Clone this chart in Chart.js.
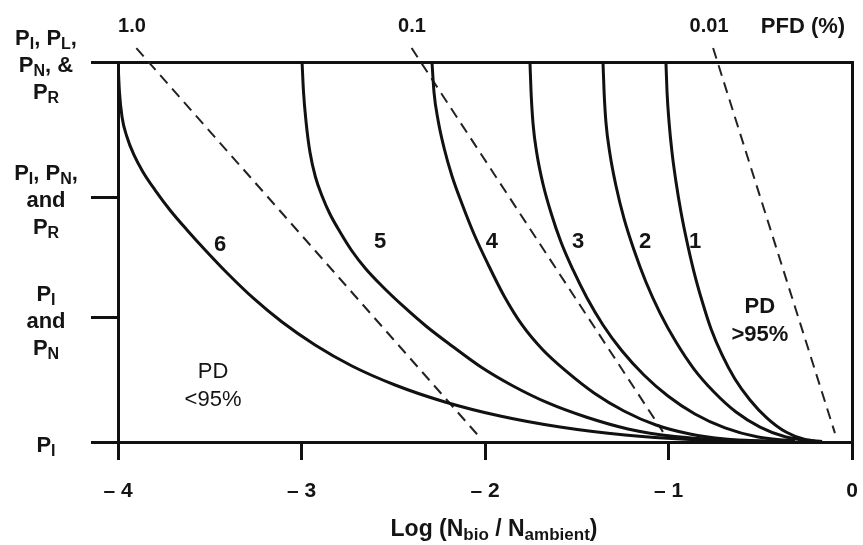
<!DOCTYPE html>
<html><head><meta charset="utf-8">
<script src="https://cdn.jsdelivr.net/npm/chart.js@4/dist/chart.umd.min.js"></script>
<style>html,body{margin:0;padding:0;background:#fff}canvas{display:block}</style>
</head><body>
<canvas id="c" width="863" height="545"></canvas>
<script>
// ---- data ----
const xTickValues = [-4, -3, -2, -1, 0];
const xTickLabels = ['\u2013 4', '\u2013 3', '\u2013 2', '\u2013 1', '0'];
const yTickValues = [0, 0.98, 1.93, 3];
const yTickLabels = [
  ['P_{I}'],
  ['P_{I}', 'and', 'P_{N}'],
  ['P_{I}, P_{N},', 'and', 'P_{R}'],
  ['P_{I}, P_{L},', 'P_{N}, &', 'P_{R}']
];
const xTitle = 'Log (N_{bio} / N_{ambient})';

const curve1X = [-1.014, -1.008, -0.997, -0.981, -0.959, -0.932, -0.899, -0.861, -0.817, -0.768, -0.708, -0.638, -0.556, -0.463, -0.360, -0.256, -0.163];
const curve1Y = [3.000, 2.763, 2.526, 2.289, 2.053, 1.816, 1.579, 1.342, 1.113, 0.892, 0.687, 0.497, 0.332, 0.189, 0.079, 0.020, 0.004];
const curve2X = [-1.357, -1.351, -1.341, -1.319, -1.286, -1.243, -1.188, -1.123, -1.046, -0.959, -0.861, -0.752, -0.632, -0.501, -0.360, -0.202];
const curve2Y = [3.000, 2.763, 2.526, 2.274, 2.021, 1.768, 1.516, 1.263, 1.018, 0.789, 0.576, 0.395, 0.237, 0.118, 0.039, 0.006];
const curve3X = [-1.755, -1.749, -1.738, -1.717, -1.684, -1.640, -1.586, -1.520, -1.444, -1.357, -1.253, -1.134, -1.003, -0.856, -0.692, -0.512, -0.311];
const curve3Y = [3.000, 2.763, 2.510, 2.274, 2.037, 1.808, 1.579, 1.358, 1.137, 0.924, 0.718, 0.529, 0.363, 0.221, 0.111, 0.039, 0.008];
const curve4X = [-2.289, -2.278, -2.256, -2.223, -2.180, -2.125, -2.060, -1.984, -1.896, -1.798, -1.684, -1.553, -1.406, -1.243, -1.068, -0.883, -0.692, -0.447];
const curve4Y = [3.000, 2.763, 2.542, 2.321, 2.100, 1.879, 1.642, 1.405, 1.153, 0.924, 0.726, 0.553, 0.387, 0.245, 0.134, 0.063, 0.024, 0.006];
const curve5X = [-2.997, -2.989, -2.975, -2.954, -2.924, -2.888, -2.845, -2.790, -2.725, -2.649, -2.556, -2.447, -2.322, -2.180, -2.022, -1.847, -1.657, -1.450, -1.221, -0.965, -0.692, -0.392];
const curve5Y = [3.000, 2.763, 2.526, 2.289, 2.092, 1.942, 1.800, 1.658, 1.508, 1.366, 1.224, 1.074, 0.916, 0.758, 0.592, 0.442, 0.308, 0.197, 0.103, 0.043, 0.016, 0.004];
const curve6X = [-4.000, -3.992, -3.978, -3.951, -3.913, -3.864, -3.798, -3.717, -3.624, -3.520, -3.400, -3.264, -3.106, -2.926, -2.725, -2.490, -2.218, -1.918, -1.591, -1.237, -0.883, -0.501];
const curve6Y = [3.000, 2.763, 2.566, 2.408, 2.266, 2.132, 1.989, 1.832, 1.674, 1.508, 1.326, 1.137, 0.947, 0.766, 0.600, 0.450, 0.316, 0.205, 0.118, 0.055, 0.020, 0.004];

const pfd1X = [-3.900, -2.030]; const pfd1Y = [3.11, 0.04];
const pfd01X = [-2.400, -1.030]; const pfd01Y = [3.11, 0.08];
const pfd001X = [-0.757, -0.093]; const pfd001Y = [3.11, 0.07];

const curveNames = ['1', '2', '3', '4', '5', '6'];
const curveNameX = [-0.855, -1.128, -1.493, -1.962, -2.572, -3.444];
const curveNameY = [1.595, 1.595, 1.595, 1.595, 1.595, 1.571];

const pfdNames = ['1.0', '0.1', '0.01', 'PFD (%)'];
const pfdNameX = [-3.924, -2.398, -0.779, -0.267];
const pfdNameY = 3.292;

const pdLowLines = ['PD', '<95%'];  const pdLowX = -3.482;  const pdLowY = [0.568, 0.347];
const pdHighLines = ['PD', '>95%']; const pdHighX = -0.502; const pdHighY = [1.081, 0.860];

// ---- helpers ----
const FAM = '"Liberation Sans", Arial, Helvetica, sans-serif';
const INK = '#141414';
const toPts = (xs, ys) => xs.map((x, i) => ({x: x, y: ys[i]}));

function parseRich(s) {
  const out = []; const re = /_\{([^}]*)\}/g; let last = 0, m;
  while ((m = re.exec(s))) {
    if (m.index > last) out.push({t: s.slice(last, m.index), sub: false});
    out.push({t: m[1], sub: true}); last = re.lastIndex;
  }
  if (last < s.length) out.push({t: s.slice(last), sub: false});
  return out;
}
function drawRich(ctx, s, cx, cy, size, subSize, weight) {
  const segs = parseRich(s);
  const mf = weight + ' ' + size + 'px ' + FAM, sf = weight + ' ' + subSize + 'px ' + FAM;
  let w = 0;
  segs.forEach(g => { ctx.font = g.sub ? sf : mf; g.w = ctx.measureText(g.t).width; w += g.w; });
  let x = cx - w / 2;
  ctx.fillStyle = INK; ctx.textBaseline = 'alphabetic'; ctx.textAlign = 'left';
  const base = cy + size * 0.358;
  segs.forEach(g => { ctx.font = g.sub ? sf : mf; ctx.fillText(g.t, x, g.sub ? base + size * 0.18 : base); x += g.w; });
}

const textPlugin = {
  id: 'texts',
  afterDraw(chart) {
    const ctx = chart.ctx, xs = chart.scales.x, ys = chart.scales.y, ca = chart.chartArea;
    ctx.save();
    yTickValues.forEach((v, i) => {
      const lines = yTickLabels[i]; const py = ys.getPixelForValue(v) + 2;
      lines.forEach((ln, j) => drawRich(ctx, ln, 46, py + (j - (lines.length - 1) / 2) * 27, 22, 16, 'bold'));
    });
    drawRich(ctx, xTitle, (ca.left + ca.right) / 2 + 9, 528, 23, 17, 'bold');
    pfdNames.forEach((t, i) => drawRich(ctx, t, xs.getPixelForValue(pfdNameX[i]), ys.getPixelForValue(pfdNameY), i === 3 ? 22 : 20, 14, 'bold'));
    curveNames.forEach((t, i) => drawRich(ctx, t, xs.getPixelForValue(curveNameX[i]), ys.getPixelForValue(curveNameY[i]), 22, 14, 'bold'));
    pdLowLines.forEach((t, i) => drawRich(ctx, t, xs.getPixelForValue(pdLowX), ys.getPixelForValue(pdLowY[i]), 22, 14, 'normal'));
    pdHighLines.forEach((t, i) => drawRich(ctx, t, xs.getPixelForValue(pdHighX), ys.getPixelForValue(pdHighY[i]), 22, 14, 'bold'));
    ctx.restore();
  }
};

const curveDs = (xs, ys) => ({
  data: toPts(xs, ys), showLine: true, borderColor: '#111', borderWidth: 3,
  pointRadius: 0, cubicInterpolationMode: 'monotone', fill: false
});
const dashDs = (xs, ys) => ({
  data: toPts(xs, ys), showLine: true, borderColor: '#222', borderWidth: 2,
  borderDash: [11, 7], pointRadius: 0, clip: false, fill: false
});

new Chart(document.getElementById('c'), {
  type: 'scatter',
  data: {
    datasets: [
      curveDs(curve1X, curve1Y), curveDs(curve2X, curve2Y), curveDs(curve3X, curve3Y),
      curveDs(curve4X, curve4Y), curveDs(curve5X, curve5Y), curveDs(curve6X, curve6Y),
      dashDs(pfd1X, pfd1Y), dashDs(pfd01X, pfd01Y), dashDs(pfd001X, pfd001Y)
    ]
  },
  options: {
    responsive: false, animation: false, events: [],
    layout: {padding: 0},
    plugins: {legend: {display: false}, tooltip: {enabled: false}},
    scales: {
      x: {
        type: 'linear', position: 'bottom', min: -4, max: 0,
        afterBuildTicks: s => { s.ticks = xTickValues.map(v => ({value: v})); },
        ticks: {
          callback: (v, i) => xTickLabels[i], autoSkip: false, maxRotation: 0,
          font: {family: FAM, size: 21, weight: 'bold'}, color: INK, padding: 19
        },
        grid: {display: true, drawOnChartArea: false, drawTicks: true, tickLength: 18, tickWidth: 3, tickColor: '#111', lineWidth: 3, color: '#111'},
        border: {display: true, width: 3, color: '#111'},
        afterFit: s => { s.height = 103; s.paddingLeft = 0; s.paddingRight = 0; }
      },
      x2: {
        type: 'linear', position: 'top', min: -4, max: 0,
        ticks: {display: false}, grid: {display: false},
        border: {display: true, width: 3, color: '#111'},
        afterFit: s => { s.height = 62; s.paddingLeft = 0; s.paddingRight = 0; }
      },
      y: {
        type: 'linear', position: 'left', min: 0, max: 3,
        afterBuildTicks: s => { s.ticks = yTickValues.map(v => ({value: v})); },
        ticks: {display: false},
        grid: {display: true, drawOnChartArea: false, drawTicks: true, tickLength: 27, tickWidth: 3, tickColor: '#111', lineWidth: 3, color: '#111'},
        border: {display: true, width: 3, color: '#111'},
        afterFit: s => { s.width = 118; s.paddingTop = 0; s.paddingBottom = 0; }
      },
      y2: {
        type: 'linear', position: 'right', min: 0, max: 3,
        ticks: {display: false}, grid: {display: false},
        border: {display: true, width: 3, color: '#111'},
        afterFit: s => { s.width = 11; s.paddingTop = 0; s.paddingBottom = 0; }
      }
    }
  },
  plugins: [textPlugin]
});
</script>
</body></html>
